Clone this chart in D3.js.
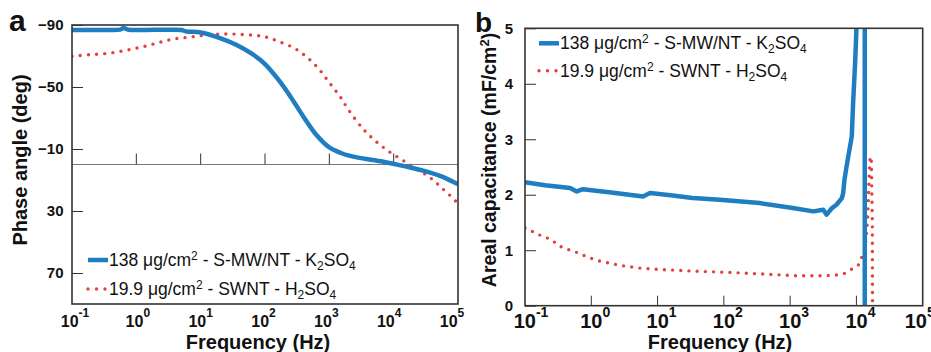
<!DOCTYPE html>
<html>
<head>
<meta charset="utf-8">
<script src="https://cdn.jsdelivr.net/npm/d3@7"></script>
<style>
  html, body { margin: 0; padding: 0; background: #fff; }
  svg { display: block; font-family: "Liberation Sans", Arial, sans-serif; }
</style>
</head>
<body>
<svg id="chart" width="931" height="352"></svg>
<script>
// ---------- DATA ----------
// Panel a: phase angle vs frequency
const freqA_blue = [0.1, 0.316, 0.562, 0.631, 0.759, 3.16, 5.01, 6.03, 10, 20, 36.3, 63.1, 100, 158, 251, 398, 631, 1000, 1585, 2690, 6920, 15850, 28840, 52500, 100000];
const phaseA_blue = [-86.8, -86.8, -87.0, -88.0, -87.0, -87.0, -86.8, -85.8, -85.2, -81.6, -77.1, -71.3, -64.8, -55.2, -43.6, -30.7, -19, -11, -7.1, -4.6, -1.8, 1.4, 4.0, 7.4, 12.8];
const freqA_red = [0.1, 0.195, 0.355, 0.646, 1.15, 2.04, 3.63, 6.46, 11.7, 21.4, 38.9, 70.8, 107, 166, 288, 468, 708, 1000, 1445, 1995, 3390, 5370, 8510, 14125, 22900, 38000, 58900, 93300, 100000];
const phaseA_red = [-69.8, -70.9, -71.7, -73.4, -75.6, -78.2, -80.8, -82.1, -83.4, -84.2, -84.0, -83.3, -82.1, -79.2, -75, -68.5, -61, -52.8, -44.2, -35.2, -22.7, -14.7, -8.3, -2.5, 2.9, 8.9, 16, 24, 27];

// Panel b: areal capacitance vs frequency
const freqB_blue = [0.1, 0.2, 0.479, 0.603, 0.75, 2.0, 6.03, 7.67, 15.8, 33.9, 87.1, 347, 1096, 2239, 3162, 3548, 4266, 5012, 6026, 6310, 6607, 7079, 8511, 8913, 9550, 10000, 11480, 13335, 13366];
const capB_blue = [2.225, 2.17, 2.12, 2.06, 2.10, 2.04, 1.97, 2.03, 1.99, 1.94, 1.91, 1.85, 1.76, 1.70, 1.73, 1.64, 1.76, 1.82, 1.94, 2.03, 2.27, 2.5, 3.05, 3.65, 4.37, 4.97, 9, 9, -1];
const freqB_red = [0.1, 0.115, 0.153, 0.251, 0.324, 0.427, 0.562, 0.955, 1.27, 2.19, 2.95, 5.13, 12.0, 38.9, 123, 389, 1259, 2985, 5309, 6761, 8511, 10715, 12023, 13183, 13804, 14289, 14791, 15136, 15488, 15849, 16218, 16788, 17378, 17498, 17579];
const capB_red = [1.40, 1.37, 1.29, 1.19, 1.08, 1.02, 0.975, 0.86, 0.81, 0.75, 0.72, 0.68, 0.65, 0.62, 0.60, 0.57, 0.54, 0.54, 0.555, 0.585, 0.66, 0.735, 0.87, 1.0, 1.15, 1.34, 1.6, 1.9, 2.27, 2.57, 2.69, 2.62, 1.5, 0, -0.3];

// Tick values / labels
const xTickExp = [-1, 0, 1, 2, 3, 4, 5];
const yTicksA = [-90, -50, -10, 30, 70];
const yTicksB = [0, 1, 2, 3, 4, 5];
const legendBlue = { num: "138 μg/cm", mid: "- S-MW/NT - K", tail: "SO" };
const legendRed = { num: "19.9 μg/cm", mid: "- SWNT - H", tail: "SO" };

// ---------- STYLE ----------
const BLUE = "#1f7ec2", RED = "#e2403f", AXIS = "#333";

const svg = d3.select("#chart");

function drawPanel(opt) {
  const { x, y, id } = opt;
  const [x0, x1] = x.range();
  const [yb, yt] = y.range();
  const g = svg.append("g");

  g.append("clipPath").attr("id", id).append("rect")
    .attr("x", x0).attr("y", yt).attr("width", x1 - x0).attr("height", yb - yt);

  // y axis (ticks inward, labels outside)
  const ya = g.append("g").attr("transform", `translate(${x0},0)`)
    .call(d3.axisLeft(y).tickValues(opt.yTicks).tickFormat(d3.format("d"))
      .tickSize(-opt.yTickLen).tickPadding(opt.yPad));
  ya.select(".domain").remove();
  ya.selectAll("line").attr("stroke", AXIS).attr("stroke-width", 1);
  ya.selectAll("text").attr("fill", "#111").style("font-size", opt.yFont + "px")
    .style("font-weight", "bold").style("font-family", "'Liberation Sans', Arial, sans-serif");

  // x baseline (zero line for panel a)
  if (opt.zeroLine) {
    g.append("line").attr("x1", x0).attr("x2", x1)
      .attr("y1", y(0)).attr("y2", y(0)).attr("stroke", "#777").attr("stroke-width", 1);
  }
  const tickBase = opt.zeroLine ? y(0) : yb;
  g.selectAll(".xt").data(xTickExp.slice(1, -1)).enter().append("line")
    .attr("x1", d => x(Math.pow(10, d))).attr("x2", d => x(Math.pow(10, d)))
    .attr("y1", tickBase).attr("y2", tickBase - opt.xTickLen)
    .attr("stroke", AXIS).attr("stroke-width", 1);

  // x tick labels 10^n
  xTickExp.forEach((e, i) => {
    const cx = x(Math.pow(10, e)) + opt.labelShift(i);
    const t = g.append("text").attr("x", cx).attr("y", opt.xLabBase)
      .attr("text-anchor", "middle").attr("fill", "#111").style("font-weight", "bold");
    t.append("tspan").style("font-size", opt.xFont + "px").text("10");
    t.append("tspan").style("font-size", opt.xSupFont + "px").attr("dy", opt.xSupDy).text(String(e));
  });

  // data lines
  const line = d3.line().x(d => x(d[0])).y(d => y(d[1])).curve(opt.curve);
  const pg = g.append("g").attr("clip-path", `url(#${id})`);
  pg.append("path").datum(d3.zip(opt.redF, opt.redV)).attr("d", line)
    .attr("fill", "none").attr("stroke", RED).attr("stroke-width", 3.4)
    .attr("stroke-linecap", "round").attr("stroke-dasharray", "0 8.2");
  pg.append("path").datum(d3.zip(opt.blueF, opt.blueV)).attr("d", line)
    .attr("fill", "none").attr("stroke", BLUE).attr("stroke-width", 4.5)
    .attr("stroke-linejoin", "round");

  // frame
  g.append("rect").attr("x", x0).attr("y", yt).attr("width", x1 - x0).attr("height", yb - yt)
    .attr("fill", "none").attr("stroke", AXIS).attr("stroke-width", 1.6);

  // x title
  g.append("text").attr("x", opt.xTitleX).attr("y", 348.5).attr("text-anchor", "middle")
    .style("font-size", "20px").style("font-weight", "bold").attr("fill", "#111").text("Frequency (Hz)");

  // legend
  const L = opt.legend;
  [[legendBlue, BLUE, false], [legendRed, RED, true]].forEach(([lg, col, dotted], k) => {
    const ly = L.lineY + k * L.gap;
    const ln = g.append("line").attr("x1", L.lx0).attr("x2", L.lx1).attr("y1", ly).attr("y2", ly)
      .attr("stroke", col).attr("stroke-linecap", "round");
    if (dotted) ln.attr("stroke-width", 3.4).attr("stroke-dasharray", "0 8.5");
    else ln.attr("stroke-width", 4.5).attr("stroke-linecap", "butt");
    const t = g.append("text").attr("x", L.tx).attr("y", L.textY + k * L.gap)
      .attr("fill", "#111").style("font-size", L.font + "px");
    t.append("tspan").text(lg.num);
    t.append("tspan").style("font-size", "12px").attr("dy", -6).text("2");
    t.append("tspan").attr("dy", 6).text(" " + lg.mid);
    t.append("tspan").style("font-size", "12px").attr("dy", 4).text("2");
    t.append("tspan").attr("dy", -4).text(lg.tail);
    t.append("tspan").style("font-size", "12px").attr("dy", 4).text("4");
  });
  return g;
}

// ---------- PANEL A ----------
const xA = d3.scaleLog().domain([0.1, 1e5]).range([72, 458]);
const yA = d3.scaleLinear().domain([90, -90]).range([304, 25]);
drawPanel({
  id: "clipA", x: xA, y: yA, yTicks: yTicksA, yTickLen: 11, yPad: 8.5, yFont: 15,
  zeroLine: true, xTickLen: 11, xLabBase: 327, xFont: 16, xSupFont: 12, xSupDy: -10,
  labelShift: i => 3 - i * 1.5, curve: d3.curveCatmullRom.alpha(0.5),
  blueF: freqA_blue, blueV: phaseA_blue, redF: freqA_red, redV: phaseA_red,
  xTitleX: 258,
  legend: { lx0: 88, lx1: 108, lineY: 260, gap: 29, tx: 109, textY: 266, font: 17.5 }
});

// ---------- PANEL B ----------
const xB = d3.scaleLog().domain([0.1, 1e5]).range([525, 922.7]);
const yB = d3.scaleLinear().domain([0, 5]).range([305.7, 28.3]);
drawPanel({
  id: "clipB", x: xB, y: yB, yTicks: yTicksB, yTickLen: 11, yPad: 12, yFont: 15,
  zeroLine: false, xTickLen: 10, xLabBase: 328, xFont: 20, xSupFont: 14, xSupDy: -11,
  labelShift: i => (i === 6 ? -3 : (i === 0 ? 6 : 4)), curve: d3.curveLinear,
  blueF: freqB_blue, blueV: capB_blue, redF: freqB_red, redV: capB_red,
  xTitleX: 720,
  legend: { lx0: 539, lx1: 559, lineY: 43.3, gap: 27.5, tx: 560, textY: 49, font: 17.5 }
});

// ---------- AXIS TITLES & PANEL LETTERS ----------
svg.append("text").attr("transform", "translate(27,160) rotate(-90)").attr("text-anchor", "middle")
  .style("font-size", "20px").style("font-weight", "bold").attr("fill", "#111").text("Phase angle (deg)");

const tb = svg.append("text").attr("transform", "translate(496,160) rotate(-90)").attr("text-anchor", "middle")
  .style("font-size", "19.5px").style("font-weight", "bold").attr("fill", "#111");
tb.append("tspan").text("Areal capacitance (mF/cm");
tb.append("tspan").style("font-size", "13px").attr("dy", -7).text("2");
tb.append("tspan").attr("dy", 7).text(")");

svg.append("text").attr("x", 9).attr("y", 31).style("font-size", "30px").style("font-weight", "bold")
  .attr("fill", "#111").text("a");
svg.append("text").attr("x", 475).attr("y", 32).style("font-size", "28px").style("font-weight", "bold")
  .attr("fill", "#111").text("b");
</script>
</body>
</html>
